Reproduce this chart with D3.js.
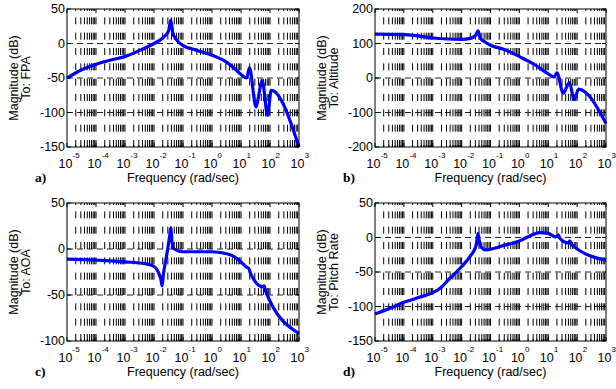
<!DOCTYPE html>
<html>
<head>
<meta charset="utf-8">
<script src="https://cdn.jsdelivr.net/npm/d3@7"></script>
<style>
  body { margin: 0; background: #fff; }
  svg { display: block; }
</style>
</head>
<body>
<div id="chart"></div>
<script>
// frequency points (rad/sec) and magnitudes (dB)
var fpaFreq = [1e-5, 3.2e-5, 1e-4, 3.2e-4, 1e-3, 3.2e-3, 0.01, 0.02, 0.0316, 0.038, 0.0447, 0.056, 0.1, 0.316, 1, 3.16, 6.3, 10, 15.8, 19.5, 33, 35.5, 54, 83, 110, 1000];
var fpaMag  = [-50, -38, -30, -24, -19, -10, 0, 8, 18, 34, 15, 7, -3, -10, -17, -27, -37, -45, -50, -35, -92, -88, -54, -104, -68, -150];

var altFreq = [1e-5, 1e-4, 3.2e-4, 1e-3, 3.2e-3, 0.01, 0.02, 0.0316, 0.037, 0.0447, 0.063, 0.1, 0.316, 1, 3.16, 10, 15.8, 20, 33, 54, 79, 112, 1000];
var altMag  = [127, 126, 122, 116, 113, 112, 115, 125, 137, 115, 105, 95, 82, 62, 40, 12, 3, 15, -44, -13, -63, -32, -132];

var aoaFreq = [1e-5, 1e-4, 1e-3, 5e-3, 0.01, 0.014, 0.0178, 0.019, 0.021, 0.028, 0.035, 0.038, 0.042, 0.05, 0.1, 1, 4, 7, 10, 15.8, 18.6, 21, 56, 63, 71, 1000];
var aoaMag  = [-11, -12, -14, -16, -19, -25, -35, -40, -28, -5, 15, 23, 8, 0, -3, -3, -6, -10, -14, -20, -21, -26, -41, -40, -46, -92];

var prFreq = [1e-5, 3.2e-5, 1e-4, 3.2e-4, 1e-3, 2e-3, 3.2e-3, 0.01, 0.02, 0.0316, 0.037, 0.042, 0.05, 0.07, 0.1, 0.316, 1, 2.5, 5, 10, 17.8, 22.4, 25, 50, 56, 63, 1000];
var prMag  = [-111, -103, -94, -87, -80, -72, -63, -42, -27, -12, 6, -8, -15, -18, -17, -11, -5, 3, 7, 6, 1, 4, -1, -8, -5, -10, -33];

// y axis ticks per panel
var fpaTicks = [50, 0, -50, -100, -150];
var altTicks = [200, 100, 0, -100, -200];
var aoaTicks = [50, 0, -50, -100];
var prTicks  = [50, 0, -50, -100, -150];

var xDecades = [-5, -4, -3, -2, -1, 0, 1, 2, 3];

var panels = [
  { tag: "a)", out: "To: FPA",        freq: fpaFreq, mag: fpaMag, ticks: fpaTicks, x0: 67,  x1: 299, y0: 9,   y1: 147 },
  { tag: "b)", out: "To: Altitude",   freq: altFreq, mag: altMag, ticks: altTicks, x0: 375, x1: 606, y0: 9,   y1: 147 },
  { tag: "c)", out: "To: AOA",        freq: aoaFreq, mag: aoaMag, ticks: aoaTicks, x0: 67,  x1: 299, y0: 203, y1: 341 },
  { tag: "d)", out: "To: Pitch Rate", freq: prFreq,  mag: prMag,  ticks: prTicks,  x0: 375, x1: 606, y0: 203, y1: 341 }
];

var svg = d3.select("#chart").append("svg")
  .attr("width", 616)
  .attr("height", 389);

var font = "'Liberation Sans', Arial, sans-serif";

panels.forEach(function(p) {
  var x = d3.scaleLog().domain([1e-5, 1e3]).range([p.x0, p.x1]);
  var y = d3.scaleLinear().domain([d3.min(p.ticks), d3.max(p.ticks)]).range([p.y1, p.y0]);
  var g = svg.append("g");

  // vertical grid, every minor decade step
  var vt = x.ticks().filter(function(v) { return x(v) > p.x0 + 0.5 && x(v) < p.x1 - 0.5; });
  g.selectAll(".vg").data(vt).join("line")
    .attr("x1", function(d) { return x(d); }).attr("x2", function(d) { return x(d); })
    .attr("y1", p.y1).attr("y2", p.y0)
    .attr("stroke", "#000").attr("stroke-width", 1)
    .attr("stroke-dasharray", "7,8.33");

  // horizontal grid
  var ht = p.ticks.filter(function(v) { return y(v) > p.y0 + 0.5 && y(v) < p.y1 - 0.5; });
  g.selectAll(".hg").data(ht).join("line")
    .attr("x1", p.x0).attr("x2", p.x1)
    .attr("y1", function(d) { return y(d); }).attr("y2", function(d) { return y(d); })
    .attr("stroke", "#222").attr("stroke-width", 1)
    .attr("stroke-dasharray", "6,4");

  // curve
  var line = d3.line()
    .x(function(d) { return x(d[0]); })
    .y(function(d) { return y(d[1]); })
    .curve(d3.curveMonotoneX);
  var pts = p.freq.map(function(f, i) { return [f, p.mag[i]]; });
  g.append("path").datum(pts)
    .attr("d", line)
    .attr("fill", "none")
    .attr("stroke", "#0000ff")
    .attr("stroke-width", 3.2)
    .attr("stroke-linejoin", "round");

  // box
  g.append("rect")
    .attr("x", p.x0).attr("y", p.y0)
    .attr("width", p.x1 - p.x0).attr("height", p.y1 - p.y0)
    .attr("fill", "none").attr("stroke", "#000").attr("stroke-width", 1);

  // inward ticks, bottom/top and left/right
  var allx = x.ticks();
  g.selectAll(".xt").data(allx).join("path")
    .attr("d", function(d) {
      var xx = x(d), len = Number.isInteger(Math.log10(d)) ? 4 : 2;
      return "M" + xx + "," + p.y1 + "v" + (-len) + "M" + xx + "," + p.y0 + "v" + len;
    })
    .attr("stroke", "#000").attr("stroke-width", 1);
  g.selectAll(".yt").data(p.ticks).join("path")
    .attr("d", function(d) {
      var yy = y(d);
      return "M" + p.x0 + "," + yy + "h4M" + p.x1 + "," + yy + "h-4";
    })
    .attr("stroke", "#000").attr("stroke-width", 1);

  // y tick labels
  g.selectAll(".yl").data(p.ticks).join("text")
    .attr("x", p.x0 - 2)
    .attr("y", function(d) { return y(d); })
    .attr("dy", "0.35em")
    .attr("text-anchor", "end")
    .attr("font-family", font).attr("font-size", 12.5)
    .text(function(d) { return d; });

  // x tick labels: 10 with superscript exponent
  var xl = g.selectAll(".xl").data(xDecades).join("g");
  xl.append("text")
    .attr("x", function(d) { return x(Math.pow(10, d)) - 1.5; })
    .attr("y", p.y1 + 21)
    .attr("text-anchor", "middle")
    .attr("font-family", font).attr("font-size", 12.5)
    .text("10");
  xl.append("text")
    .attr("x", function(d) { return x(Math.pow(10, d)) + 5.5; })
    .attr("y", p.y1 + 11)
    .attr("text-anchor", "start")
    .attr("font-family", font).attr("font-size", 8)
    .text(function(d) { return d; });

  // axis titles
  g.append("text")
    .attr("x", (p.x0 + p.x1) / 2).attr("y", p.y1 + 35)
    .attr("text-anchor", "middle")
    .attr("font-family", font).attr("font-size", 12.5)
    .text("Frequency (rad/sec)");
  var cy = (p.y0 + p.y1) / 2;
  g.append("text")
    .attr("transform", "translate(" + (p.x0 - 49) + "," + cy + ") rotate(-90)")
    .attr("text-anchor", "middle")
    .attr("font-family", font).attr("font-size", 12.5)
    .text("Magnitude (dB)");
  g.append("text")
    .attr("transform", "translate(" + (p.x0 - 37) + "," + cy + ") rotate(-90)")
    .attr("text-anchor", "middle")
    .attr("font-family", font).attr("font-size", 12.5)
    .text(p.out);

  // panel tag
  g.append("text")
    .attr("x", p.x0 - 32).attr("y", p.y1 + 35)
    .attr("font-family", "'Liberation Serif', 'Times New Roman', serif")
    .attr("font-weight", "bold").attr("font-size", 13.5)
    .text(p.tag);
});
</script>
</body>
</html>
